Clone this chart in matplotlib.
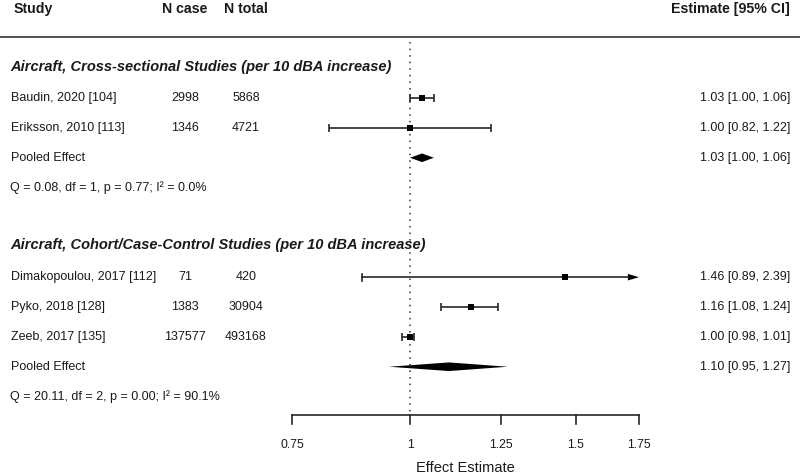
import numpy as np
import matplotlib
matplotlib.use("Agg")
import matplotlib.pyplot as plt
from matplotlib import transforms

plt.rcParams['font.family'] = ['Liberation Sans', 'DejaVu Sans']

# studies, grouped by design
groups = ["Aircraft, Cross-sectional Studies (per 10 dBA increase)",
          "Aircraft, Cohort/Case-Control Studies (per 10 dBA increase)"]
group_of = [0, 0, 1, 1, 1]
studies = ["Baudin, 2020 [104]", "Eriksson, 2010 [113]",
           "Dimakopoulou, 2017 [112]", "Pyko, 2018 [128]", "Zeeb, 2017 [135]"]
n_case = [2998, 1346, 71, 1383, 137577]
n_total = [5868, 4721, 420, 30904, 493168]
est = [1.03, 1.00, 1.46, 1.16, 1.00]
lo = [1.00, 0.82, 0.89, 1.08, 0.98]
hi = [1.06, 1.22, 2.39, 1.24, 1.01]
sq_size = [5.0, 5.0, 5.0, 4.8, 4.4]

pooled_est = [1.03, 1.10]
pooled_lo = [1.00, 0.95]
pooled_hi = [1.06, 1.27]
het_text = ["Q = 0.08, df = 1, p = 0.77; I\u00b2 = 0.0%",
            "Q = 20.11, df = 2, p = 0.00; I\u00b2 = 90.1%"]

ticks = [0.75, 1, 1.25, 1.5, 1.75]
tick_labels = ["0.75", "1", "1.25", "1.5", "1.75"]

# row layout
group_rows = [1.95, 7.93]
study_rows = [3, 4, 9, 10, 11]
pooled_rows = [5, 12]
het_rows = [6, 13]

fig = plt.figure(figsize=(8, 4.76), dpi=100)
ax = fig.add_axes([0, 0, 1, 1])
ax.set_xscale('log')
ax.set_xlim(np.exp(-410 / 409), np.exp(390 / 409))
ax.set_ylim(15.66, -0.285)
ax.axis('off')

tr = transforms.blended_transform_factory(ax.transAxes, ax.transData)
px = lambda p: p / 800.0
row_h = 1 / 29.85   # one pixel in row units
txt_col = '#1a1a1a'
line_col = '#262626'

# header
ax.text(px(14), 0, "Study", transform=tr, fontsize=10.2, fontweight='bold', va='center', color=txt_col)
ax.text(px(185), 0, "N case", transform=tr, fontsize=10.2, fontweight='bold', va='center', ha='center', color=txt_col)
ax.text(px(246), 0, "N total", transform=tr, fontsize=10.2, fontweight='bold', va='center', ha='center', color=txt_col)
ax.text(px(790), 0, "Estimate [95% CI]", transform=tr, fontsize=10.2, fontweight='bold', va='center', ha='right', color=txt_col)
ax.plot([0, 1], [0.955, 0.955], transform=tr, color='#333333', lw=1.2)

# reference line at 1
ax.plot([1, 1], [1.12, 13.52], color='#333333', lw=1.1, ls=(0, (1, 3.3)))

for g, r in zip(groups, group_rows):
    ax.text(px(10), r, g, transform=tr, fontsize=10.5, fontweight='bold', fontstyle='italic',
            va='center', color=txt_col)

xmax = ticks[-1]
for i in range(len(studies)):
    r = study_rows[i]
    ax.text(px(11), r, studies[i], transform=tr, fontsize=9, va='center', color=txt_col)
    ax.text(px(185), r, str(n_case[i]), transform=tr, fontsize=9, va='center', ha='center', color=txt_col)
    ax.text(px(246), r, str(n_total[i]), transform=tr, fontsize=9, va='center', ha='center', color=txt_col)
    ax.text(px(790), r, f"{est[i]:.2f} [{lo[i]:.2f}, {hi[i]:.2f}]", transform=tr, fontsize=9,
            va='center', ha='right', color=txt_col)
    if hi[i] > xmax:
        # truncated interval: arrow to the axis end
        base = xmax / np.exp(11 / 409)
        ax.plot([lo[i], base], [r, r], color=line_col, lw=1.2)
        ax.plot([lo[i], lo[i]], [r - 3.5 * row_h, r + 3.5 * row_h], color=line_col, lw=1.2)
        ax.fill([base, xmax, base], [r - 3.3 * row_h, r, r + 3.3 * row_h], color='black', lw=0)
    else:
        ax.errorbar([est[i]], [r], xerr=[[est[i] - lo[i]], [hi[i] - est[i]]], fmt='none',
                    ecolor=line_col, elinewidth=1.2, capsize=2.6, capthick=1.2)
    ax.plot([est[i]], [r], marker='s', ms=sq_size[i], color='black', mew=0)

for k in range(len(pooled_est)):
    r = pooled_rows[k]
    h = 4.3 * row_h
    ax.fill([pooled_lo[k], pooled_est[k], pooled_hi[k], pooled_est[k]],
            [r, r - h, r, r + h], color='black', lw=0)
    ax.text(px(11), r, "Pooled Effect", transform=tr, fontsize=9, va='center', color=txt_col)
    ax.text(px(790), r, f"{pooled_est[k]:.2f} [{pooled_lo[k]:.2f}, {pooled_hi[k]:.2f}]", transform=tr,
            fontsize=9, va='center', ha='right', color=txt_col)
    ax.text(px(10), het_rows[k], het_text[k], transform=tr, fontsize=9, va='center', color=txt_col)

# x axis drawn by hand
axis_y = 13.63
ax.plot([ticks[0], ticks[-1]], [axis_y, axis_y], color=line_col, lw=1.2)
for t, lab in zip(ticks, tick_labels):
    ax.plot([t, t], [axis_y, axis_y + 9 * row_h], color=line_col, lw=1.2)
    ax.text(t, 14.62, lab, fontsize=8.8, ha='center', va='center', color=txt_col)
ax.text(np.sqrt(ticks[0] * ticks[-1]), 15.38, "Effect Estimate", fontsize=10.5,
        ha='center', va='center', color=txt_col)

fig.savefig("out.png", dpi=100, facecolor='white')
